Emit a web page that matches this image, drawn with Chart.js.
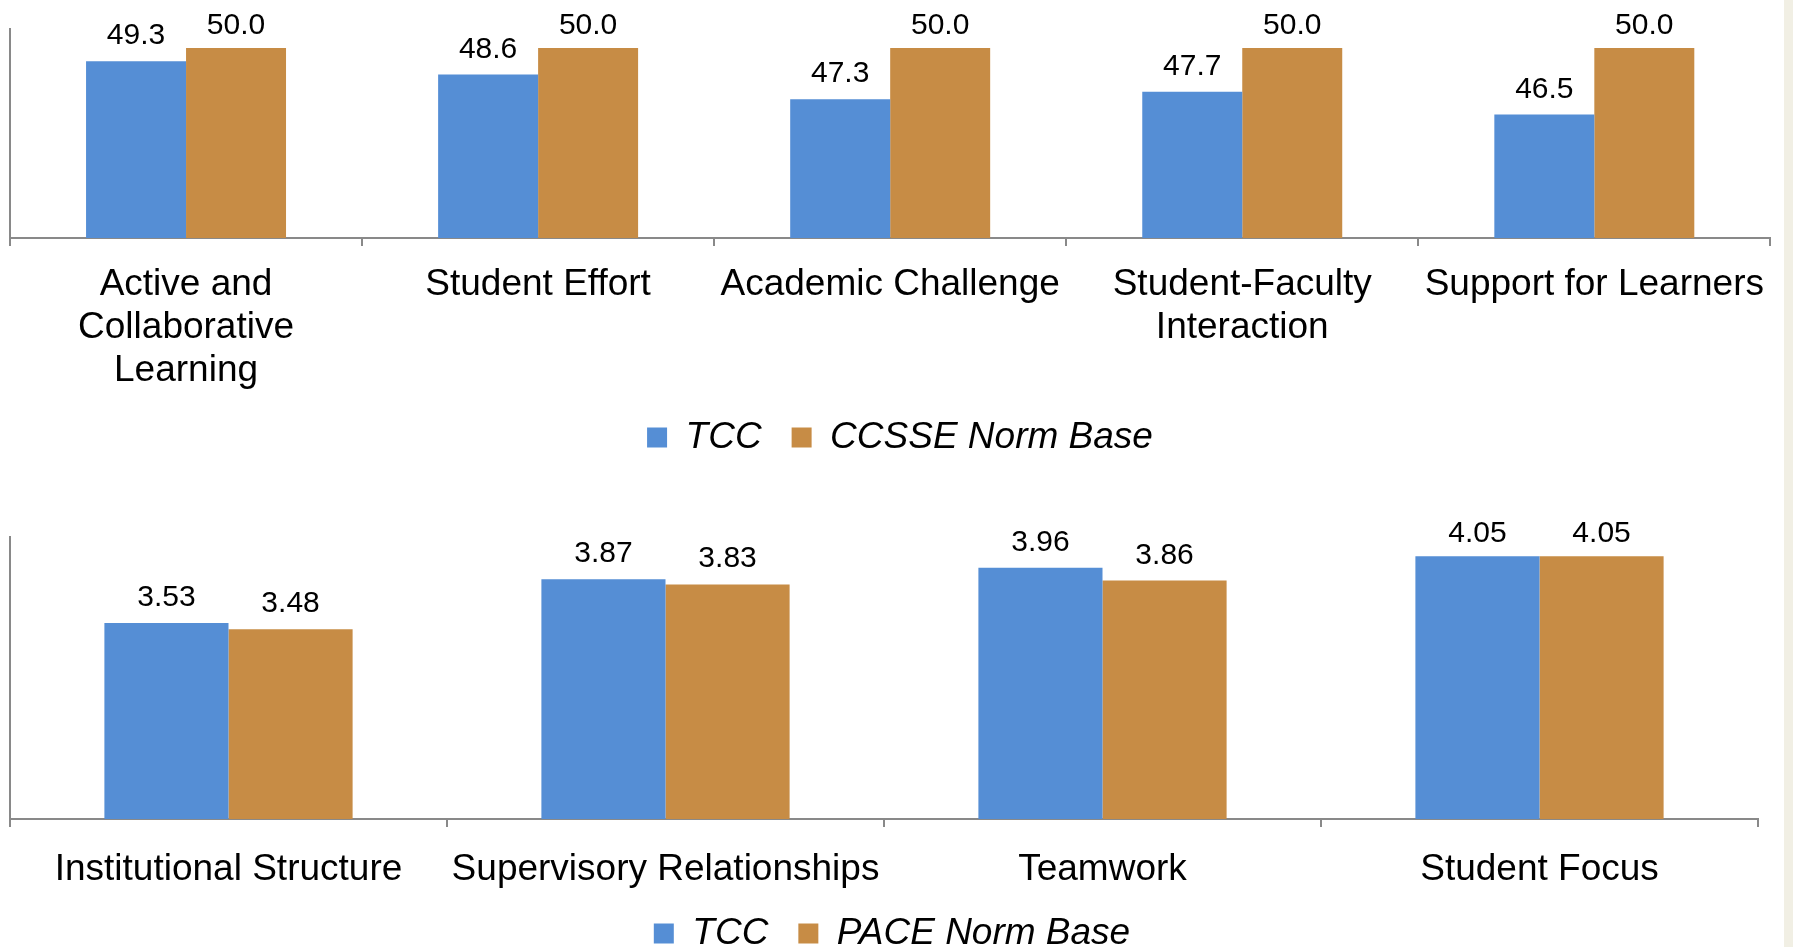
<!DOCTYPE html>
<html>
<head>
<meta charset="utf-8">
<script src="https://cdn.jsdelivr.net/npm/chart.js@4.4.1/dist/chart.umd.min.js"></script>
<style>
    html, body { margin: 0; padding: 0; background: #fff; overflow: hidden; }
    #page { position: relative; width: 1793px; height: 947px; overflow: hidden; }
    canvas { position: absolute; left: 0; }
    #ccsse { top: 0; }
    #pace { top: 490px; }
    #strip { position: absolute; left: 1784px; top: 0; width: 9px; height: 947px; background: #f1efe4; }
</style>
</head>
<body>
<div id="page">
    <canvas id="ccsse" width="1782" height="471"></canvas>
    <canvas id="pace" width="1782" height="480"></canvas>
    <div id="strip"></div>
</div>
<script>
// CCSSE benchmarks (upper chart)
const ccsseLabels = [
    ['Active and', 'Collaborative', 'Learning'],
    'Student Effort',
    'Academic Challenge',
    ['Student-Faculty', 'Interaction'],
    'Support for Learners'
];
const ccsseTcc = [49.3, 48.6, 47.3, 47.7, 46.5];
const ccsseNorm = [50.0, 50.0, 50.0, 50.0, 50.0];

// PACE climate factors (lower chart)
const paceLabels = ['Institutional Structure', 'Supervisory Relationships', 'Teamwork', 'Student Focus'];
const paceTcc = [3.53, 3.87, 3.96, 4.05];
const paceNorm = [3.48, 3.83, 3.86, 4.05];

const FONT = '"Liberation Sans", Arial, sans-serif';
const BLUE = '#558ed5';
const GOLD = '#c78c45';
const AXIS = '#898989';

// Etiquetas de valor encima de cada barra
const valueLabels = {
    id: 'valueLabels',
    afterDatasetsDraw(chart, args, opts) {
        const { ctx, chartArea } = chart;
        ctx.save();
        ctx.font = '30px ' + FONT;
        ctx.fillStyle = '#000';
        ctx.textAlign = 'center';
        ctx.textBaseline = 'alphabetic';
        chart.data.datasets.forEach((ds, i) => {
            chart.getDatasetMeta(i).data.forEach((bar, j) => {
                const y = Math.max(bar.y - 17, chartArea.top + 5);
                ctx.fillText(ds.data[j].toFixed(opts.decimals), bar.x, y);
            });
        });
        ctx.restore();
    }
};

// Mueve la leyenda un poco (sube y centra como en el original)
const legendShift = {
    id: 'legendShift',
    afterLayout(chart, args, opts) {
        const lg = chart.legend;
        if (!lg) return;
        lg.top += opts.dy; lg.bottom += opts.dy;
        lg.left += opts.dx; lg.right += opts.dx;
    }
};

function buildChart(id, cfg) {
    return new Chart(document.getElementById(id), {
        type: 'bar',
        data: {
            labels: cfg.labels,
            datasets: [
                { label: 'TCC', data: cfg.tcc, backgroundColor: BLUE, borderWidth: 0 },
                { label: cfg.normName, data: cfg.norm, backgroundColor: GOLD, borderWidth: 0 }
            ]
        },
        options: {
            responsive: false,
            animation: false,
            devicePixelRatio: 1,
            categoryPercentage: 0.568,
            barPercentage: 1,
            layout: { padding: cfg.padding },
            plugins: {
                tooltip: { enabled: false },
                valueLabels: { decimals: cfg.decimals },
                legendShift: cfg.legendShift,
                legend: {
                    position: 'bottom',
                    labels: {
                        color: '#000',
                        font: { family: FONT, size: 37, style: 'italic' },
                        boxWidth: 20,
                        boxHeight: 20,
                        padding: 30
                    }
                }
            },
            scales: {
                x: {
                    grid: {
                        display: true,
                        drawOnChartArea: false,
                        drawTicks: true,
                        tickLength: 8,
                        color: AXIS,
                        lineWidth: 2,
                        offset: true
                    },
                    border: { display: true, color: AXIS, width: 2 },
                    ticks: {
                        color: '#000',
                        font: { family: FONT, size: 37, lineHeight: 1.16 },
                        padding: cfg.tickPad,
                        maxRotation: 0,
                        autoSkip: false
                    },
                    afterFit(scale) { scale.height = cfg.axisHeight; }
                },
                y: {
                    min: cfg.min,
                    max: cfg.max,
                    ticks: { display: false },
                    grid: { display: false, drawTicks: false },
                    border: { display: true, color: AXIS, width: 2 }
                }
            }
        },
        plugins: [valueLabels, legendShift]
    });
}

buildChart('ccsse', {
    labels: ccsseLabels, tcc: ccsseTcc, norm: ccsseNorm, normName: 'CCSSE Norm Base',
    min: 40, max: 51, decimals: 1,
    padding: { top: 29, left: 10, right: 10, bottom: 0 },
    tickPad: 17, axisHeight: 156,
    legendShift: { dx: 9, dy: -5 }
});

buildChart('pace', {
    labels: paceLabels, tcc: paceTcc, norm: paceNorm, normName: 'PACE Norm Base',
    min: 2, max: 4.2, decimals: 2,
    padding: { top: 47, left: 10, right: 24, bottom: 0 },
    tickPad: 21, axisHeight: 74,
    legendShift: { dx: 8, dy: -8 }
});
</script>
</body>
</html>
